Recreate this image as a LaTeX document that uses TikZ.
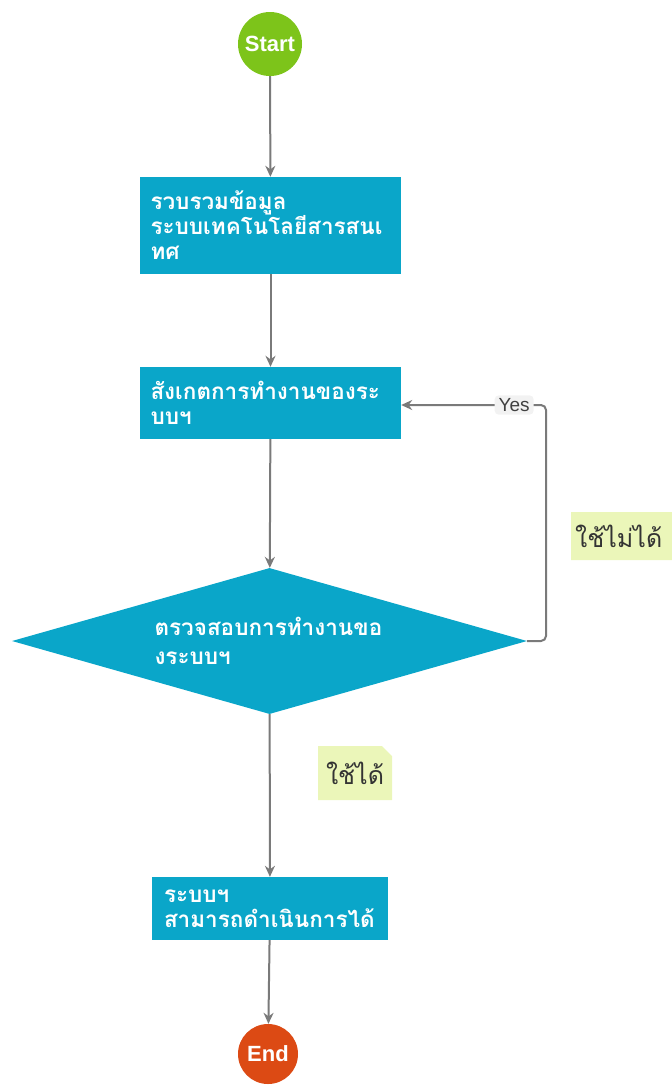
\documentclass[tikz,border=0pt]{standalone}
\usepackage{fontspec}
\setmainfont{Liberation Sans}
\newfontfamily\thai[Script=Thai]{Loma}
\usetikzlibrary{shapes.geometric,arrows.meta}
\definecolor{boxc}{HTML}{0AA6C9}
\definecolor{startc}{HTML}{7DC41A}
\definecolor{endc}{HTML}{DC4A14}
\definecolor{notec}{HTML}{EBF6B9}
\definecolor{linec}{HTML}{7A7A7A}
\tikzset{
  x=1pt,y=-1pt,
  term/.style={circle,inner sep=0pt,minimum size=64pt,text=white,font=\fontsize{22}{24}\selectfont\bfseries},
  proc/.style={rectangle,fill=boxc,text=white,inner sep=0pt,align=left,font=\thai\fontsize{22.5}{25}\selectfont\bfseries},
  dec/.style={diamond,aspect=3.53,fill=boxc,text=white,inner sep=0pt,align=left,font=\thai\fontsize{22.5}{29}\selectfont\bfseries},
  conn/.style={draw=linec,line width=2pt,-{Stealth[length=11pt,width=10pt]}},
  note/.style={inner xsep=7pt,inner ysep=0pt,font=\thai\fontsize{25}{28}\selectfont,text=black!80,
    path picture={\fill[notec] (path picture bounding box.south west) -- (path picture bounding box.south east)
      -- ([yshift=-10pt]path picture bounding box.north east) -- ([xshift=-10pt]path picture bounding box.north east)
      -- (path picture bounding box.north west) -- cycle;}},
  lab/.style={fill=black!5,rounded corners=4pt,inner xsep=4pt,inner ysep=3pt,text=black!75,font=\fontsize{19}{21}\selectfont}
}
\begin{document}
\begin{tikzpicture}
\useasboundingbox (0,0) rectangle (672,1088);
\node[term,fill=startc] (start) at (270,44) {Start};
\node[proc,minimum width=261pt,minimum height=97pt,text width=240pt] (b1) at (270.5,225.5) {รวบรวมข้อมูล\\ระบบเทคโนโลยีสารสนเ\\ทศ};
\node[proc,minimum width=261pt,minimum height=72pt,text width=240pt] (b2) at (270.5,403) {สังเกตการทำงานของระ\\บบฯ};
\node[dec,minimum width=515pt,minimum height=146pt,text width=230pt] (d) at (269.5,641) {ตรวจสอบการทำงานขอ\\งระบบฯ};
\node[proc,minimum width=236pt,minimum height=63pt,text width=212pt] (b3) at (270,908.5) {ระบบฯ\\สามารถดำเนินการได้};
\node[term,fill=endc,minimum size=60pt] (end) at (268,1054) {End};
\draw[conn] (start) -- (b1);
\draw[conn] (b1) -- (b2);
\draw[conn] (b2) -- (d);
\draw[conn] (d) -- (b3);
\draw[conn] (b3) -- (end);
\coordinate (c1) at (546,641);
\coordinate (c2) at (546,405);
\draw[conn,rounded corners=5pt] (d.east) -- (c1) -- (c2) -- (b2.east |- c2) node[lab,pos=0.22] (yes) {Yes};
\node[note,minimum width=74pt,minimum height=54pt] (n1) at (355,773) {ใช้ได้};
\node[note,anchor=west,inner xsep=4pt,text width=106pt,align=left,minimum height=48pt] (n2) at (571,536) {ใช้ไม่ได้};
\end{tikzpicture}
\end{document}
